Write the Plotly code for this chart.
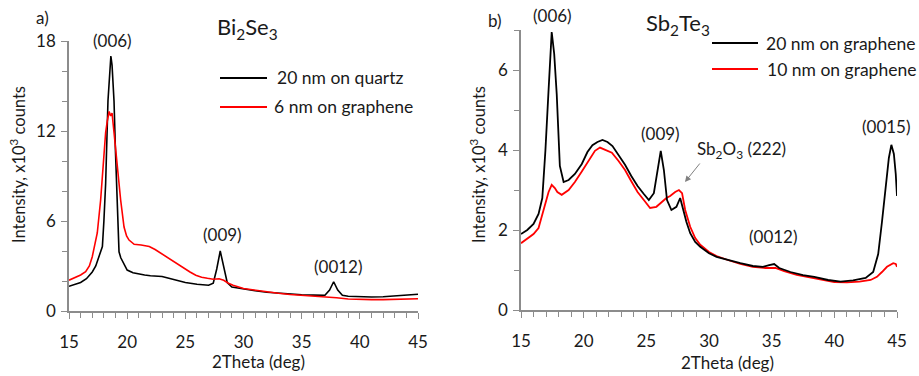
import plotly.graph_objects as go

# ---------------- data ----------------
# Panel a) Bi2Se3
a_black_x = [15.0, 15.5, 16.0, 16.5, 17.0, 17.3, 17.58, 17.87, 18.0, 18.15, 18.35, 18.5, 18.6, 18.7, 18.87,
             19.0, 19.15, 19.3, 19.45, 19.6, 19.8, 20.0, 20.5, 21.0, 21.5, 22.0, 23.0, 24.0, 25.0, 26.0,
             27.0, 27.4, 27.7, 28.0, 28.3, 28.6, 29.0, 30.0, 31.0, 32.0, 33.0, 34.0, 35.0, 36.0, 37.0,
             37.4, 37.75, 38.1, 38.5, 39.0, 40.0, 41.0, 42.0, 43.0, 44.0, 45.0]
a_black_y = [1.65, 1.75, 1.9, 2.15, 2.6, 3.0, 3.6, 4.3, 6.0, 8.5, 14.0, 16.4, 17.0, 16.4, 14.0,
             10.5, 7.4, 3.95, 3.55, 3.35, 3.0, 2.73, 2.55, 2.45, 2.4, 2.35, 2.3, 2.1, 1.9, 1.78,
             1.72, 1.85, 2.8, 4.0, 3.0, 1.9, 1.6, 1.45, 1.35, 1.25, 1.18, 1.12, 1.08, 1.06, 1.05,
             1.4, 1.95, 1.4, 1.05, 0.98, 0.93, 0.93, 0.95, 1.0, 1.07, 1.12]
a_red_x = [15.0, 15.5, 16.0, 16.43, 16.75, 17.0, 17.2, 17.43, 17.72, 18.0, 18.15, 18.3, 18.45, 18.58, 18.7,
           18.87, 19.15, 19.44, 19.73, 19.95, 20.16, 20.6, 21.2, 21.9, 22.4, 22.9, 23.4, 23.9, 24.4, 24.9,
           25.4, 25.9, 26.4, 26.9, 27.4, 27.9, 28.3, 28.7, 29.1, 30.0, 31.0, 32.0, 33.0, 34.0, 35.0,
           36.0, 37.0, 38.0, 39.0, 40.0, 41.0, 42.0, 43.0, 44.0, 45.0]
a_red_y = [2.05, 2.2, 2.4, 2.62, 3.0, 3.62, 4.3, 5.2, 7.4, 10.7, 11.9, 12.7, 13.3, 13.0, 13.2,
           11.9, 9.6, 7.4, 5.6, 5.0, 4.73, 4.45, 4.4, 4.3, 4.1, 3.85, 3.58, 3.3, 3.05, 2.85,
           2.6, 2.38, 2.25, 2.18, 2.12, 2.15, 2.05, 1.85, 1.72, 1.5, 1.38, 1.28, 1.18, 1.1, 1.05,
           0.98, 0.93, 0.88, 0.8, 0.76, 0.76, 0.76, 0.77, 0.79, 0.82]

# Panel b) Sb2Te3
b_black_x = [15.0, 15.5, 16.0, 16.4, 16.7, 16.95, 17.2, 17.45, 17.65, 17.85, 18.1, 18.4, 18.8, 19.3, 19.85,
             20.3, 20.7, 21.1, 21.5, 21.9, 22.3, 22.8, 23.3, 23.8, 24.3, 24.8, 25.2, 25.6, 25.9, 26.15,
             26.4, 26.65, 27.0, 27.4, 27.7, 27.95, 28.2, 28.5, 28.9, 29.3, 30.0, 30.6, 31.5, 32.5, 33.5,
             34.3, 34.8, 35.2, 35.6, 36.5, 37.5, 38.4, 39.5, 40.5, 41.5, 42.5, 43.1, 43.5, 43.8, 44.1,
             44.35, 44.55, 44.75, 44.9, 45.0]
b_black_y = [1.9, 2.0, 2.15, 2.4, 2.8, 4.0, 5.5, 6.95, 6.4, 5.4, 3.6, 3.2, 3.25, 3.4, 3.65,
             3.95, 4.12, 4.2, 4.25, 4.2, 4.1, 3.88, 3.63, 3.35, 3.1, 2.9, 2.75, 2.92, 3.5, 3.98,
             3.5, 2.75, 2.5, 2.58, 2.8, 2.5, 2.2, 1.92, 1.7, 1.58, 1.42, 1.33, 1.25, 1.17, 1.1,
             1.08, 1.12, 1.15, 1.05, 0.95, 0.87, 0.83, 0.75, 0.71, 0.74, 0.8, 0.95, 1.4, 2.2, 3.0,
             3.8, 4.13, 3.9, 3.4, 2.85]
b_red_x = [15.0, 15.5, 16.0, 16.4, 16.9, 17.2, 17.45, 17.7, 17.9, 18.25, 18.8, 19.3, 19.85, 20.4, 20.9,
           21.3, 21.8, 22.25, 22.8, 23.3, 23.8, 24.3, 24.8, 25.3, 25.8, 26.2, 26.6, 26.9, 27.3, 27.6,
           27.85, 28.1, 28.5, 28.9, 29.3, 30.0, 30.6, 31.5, 32.5, 33.5, 34.5, 35.3, 36.0, 37.0, 38.0,
           39.0, 40.0, 41.0, 42.0, 42.9, 43.4, 43.8, 44.2, 44.7, 44.9, 45.0]
b_red_y = [1.67, 1.78, 1.9, 2.05, 2.6, 2.95, 3.13, 3.05, 2.95, 2.88, 3.0, 3.2, 3.46, 3.75, 3.98,
           4.06, 4.0, 3.93, 3.72, 3.5, 3.22, 2.95, 2.75, 2.55, 2.58, 2.7, 2.8, 2.85, 2.95, 3.0,
           2.92, 2.5, 2.08, 1.8, 1.63, 1.45, 1.35, 1.25, 1.15, 1.08, 1.05, 1.05, 0.97, 0.88, 0.82,
           0.76, 0.7, 0.69, 0.71, 0.75, 0.83, 0.95, 1.08, 1.17, 1.15, 1.08]

a_names = ["20 nm on quartz", "6 nm on graphene"]
b_names = ["20 nm on graphene", "10 nm on graphene"]
x_ticks = [15, 20, 25, 30, 35, 40, 45]
a_y_ticks = [0, 6, 12, 18]
b_y_ticks = [0, 2, 4, 6]

# ---------------- figure ----------------
W, H = 919, 376
FONT = "Lato"
TXT = "#1a1a1a"
AX = "#8c8c8c"


def P(px, py):
    return px / W, 1 - py / H


fig = go.Figure()
fig.add_trace(go.Scatter(x=a_black_x, y=a_black_y, mode="lines", name=a_names[0],
                         line=dict(color="black", width=1.6), xaxis="x", yaxis="y"))
fig.add_trace(go.Scatter(x=a_red_x, y=a_red_y, mode="lines", name=a_names[1],
                         line=dict(color="#ff0000", width=1.6), xaxis="x", yaxis="y"))
fig.add_trace(go.Scatter(x=b_red_x, y=b_red_y, mode="lines", name=b_names[1],
                         line=dict(color="#ff0000", width=1.8), xaxis="x2", yaxis="y2"))
fig.add_trace(go.Scatter(x=b_black_x, y=b_black_y, mode="lines", name=b_names[0],
                         line=dict(color="black", width=1.8), xaxis="x2", yaxis="y2"))

common_axis = dict(showline=True, linecolor=AX, linewidth=1.5, ticks="outside", ticklen=6,
                   tickcolor=AX, tickwidth=1.2, showgrid=False, zeroline=False, automargin=False,
                   tickfont=dict(family=FONT, size=17, color=TXT))

ax_a_x0, ax_a_x1 = P(69, 0)[0], P(418, 0)[0]
ax_b_x0, ax_b_x1 = P(521, 0)[0], P(897, 0)[0]

fig.update_layout(
    width=W, height=H,
    margin=dict(l=0, r=0, t=0, b=0, autoexpand=False),
    paper_bgcolor="white", plot_bgcolor="white",
    showlegend=False,
    xaxis=dict(domain=[ax_a_x0, ax_a_x1], range=[15, 45], tickvals=x_ticks, anchor="y",
               ticklabelstandoff=9,
               minor=dict(dtick=1, ticks="outside", ticklen=5, tickcolor=AX), **common_axis),
    yaxis=dict(domain=[P(0, 311)[1], P(0, 41)[1]], range=[0, 18], tickvals=a_y_ticks, anchor="x",
               ticklabelstandoff=2,
               minor=dict(dtick=2, ticks="outside", ticklen=5, tickcolor=AX), **common_axis),
    xaxis2=dict(domain=[ax_b_x0, ax_b_x1], range=[15, 45], tickvals=x_ticks, anchor="y2",
                ticklabelstandoff=9,
                minor=dict(dtick=1, ticks="outside", ticklen=5, tickcolor=AX), **common_axis),
    yaxis2=dict(domain=[P(0, 310)[1], P(0, 30)[1]], range=[0, 7], tickvals=b_y_ticks, anchor="x2",
                ticklabelstandoff=2,
                minor=dict(dtick=1, ticks="outside", ticklen=5, tickcolor=AX), **common_axis),
)

ann = []


def label(text, px, py, size=17, xanchor="center", **kw):
    x, y = P(px, py)
    ann.append(dict(text=text, x=x, y=y, xref="paper", yref="paper", showarrow=False,
                    xanchor=xanchor, yanchor="middle",
                    font=dict(family=FONT, size=size, color=TXT), **kw))


# panel labels and titles
label("a)", 42, 17)
label("Bi<sub>2</sub>Se<sub>3</sub>", 247, 28, size=22)
label("b)", 495, 21)
label("Sb<sub>2</sub>Te<sub>3</sub>", 678, 24, size=22)

# axis titles
label("Intensity, x10<sup>3</sup> counts", 18, 165, size=16.5, textangle=-90)
label("Intensity, x10<sup>3</sup> counts", 478, 165, size=16.5, textangle=-90)
label("2Theta (deg)", 258, 361, size=17)
label("2Theta (deg)", 727, 362, size=17)

# peak labels
label("(006)", 112, 40)
label("(009)", 222, 234)
label("(0012)", 338, 266)
label("(006)", 552, 16)
label("(009)", 660, 133)
label("Sb<sub>2</sub>O<sub>3</sub> (222)", 741, 150)
label("(0012)", 773, 236)
label("(0015)", 886, 127)

# arrow for Sb2O3
tx, ty = P(685, 182)
ann.append(dict(text="", x=tx, y=ty, xref="paper", yref="paper",
                ax=701 - 685, ay=162 - 182, axref="pixel", ayref="pixel",
                showarrow=True, arrowhead=2, arrowsize=1.2, arrowwidth=1, arrowcolor="#808080"))

# legends (drawn by hand)
shapes = []


def leg(px0, px1, py, color, text, tx_px):
    x0, y0 = P(px0, py)
    x1, _ = P(px1, py)
    shapes.append(dict(type="line", xref="paper", yref="paper", x0=x0, x1=x1, y0=y0, y1=y0,
                       line=dict(color=color, width=1.8)))
    label(text, tx_px, py, size=17.5, xanchor="left")


leg(220, 267, 78, "black", a_names[0], 275)
leg(220, 267, 107, "#ff0000", a_names[1], 272)
leg(712, 758, 43, "black", b_names[0], 764)
leg(712, 758, 69, "#ff0000", b_names[1], 765)

fig.update_layout(annotations=ann, shapes=shapes)
fig.write_html("out.html")
